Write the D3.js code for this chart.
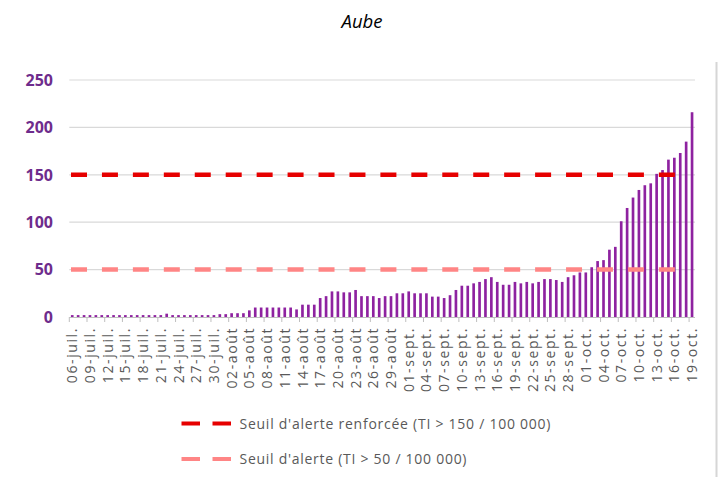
<!DOCTYPE html>
<html><head><meta charset="utf-8">
<script src="https://cdn.jsdelivr.net/npm/d3@7"></script>
<style>
html,body{margin:0;padding:0;background:#fff;}
svg{display:block;}
</style></head>
<body>
<svg id="chart" width="722" height="477"></svg>
<script>
// ---- data ----
const title = "Aube";
const categories = [
 "06-juil.","07-juil.","08-juil.","09-juil.","10-juil.","11-juil.","12-juil.","13-juil.","14-juil.","15-juil.",
 "16-juil.","17-juil.","18-juil.","19-juil.","20-juil.","21-juil.","22-juil.","23-juil.","24-juil.","25-juil.",
 "26-juil.","27-juil.","28-juil.","29-juil.","30-juil.","31-juil.",
 "01-août","02-août","03-août","04-août","05-août","06-août","07-août","08-août","09-août","10-août",
 "11-août","12-août","13-août","14-août","15-août","16-août","17-août","18-août","19-août","20-août",
 "21-août","22-août","23-août","24-août","25-août","26-août","27-août","28-août","29-août","30-août","31-août",
 "01-sept.","02-sept.","03-sept.","04-sept.","05-sept.","06-sept.","07-sept.","08-sept.","09-sept.","10-sept.",
 "11-sept.","12-sept.","13-sept.","14-sept.","15-sept.","16-sept.","17-sept.","18-sept.","19-sept.","20-sept.",
 "21-sept.","22-sept.","23-sept.","24-sept.","25-sept.","26-sept.","27-sept.","28-sept.","29-sept.","30-sept.",
 "01-oct.","02-oct.","03-oct.","04-oct.","05-oct.","06-oct.","07-oct.","08-oct.","09-oct.","10-oct.",
 "11-oct.","12-oct.","13-oct.","14-oct.","15-oct.","16-oct.","17-oct.","18-oct.","19-oct."
];
const values = [
 2,2,2,2,2,2,2,2,2,2,
 2,2,2,2,2,2,3.5,2,2,2,
 2,2,2,2,2,3,
 3,4,4,4,7,10,10,10,10,10,
 10,10,8,13,13,13,20,22,27,27,
 26,26,28.5,22,22,22,20,22,22,25,25,
 27,25,25,25,21.5,21.5,20,23,28.5,33,
 33,35.5,37,40,42,37,34,34,37,35.5,
 37,35.5,37,40,40,39,37,42,44,47,
 47,52.5,59,60,71,74,101,115,126,134,
 139,141,151,155,166,168,173,185,216
];
const tickLabels = categories.filter((d,i)=> i % 3 === 0);
const yTicks = [0,50,100,150,200,250];
const thresholds = [
 {label:"Seuil d'alerte renforcée (TI > 150 / 100 000)", value:150, color:"#e60000"},
 {label:"Seuil d'alerte (TI > 50 / 100 000)", value:50, color:"#ff8585"}
];

// ---- drawing ----
const svg = d3.select("#chart");
const L = 69.3, R = 695, T = 80, B = 317;

const x = d3.scaleBand().domain(categories).range([L, R]).paddingInner(0.55).paddingOuter(0.275);
const y = d3.scaleLinear().domain([0, 250]).range([B, T]);
const step = x.step();
const cellLeft = c => x(c) - step * x.paddingInner() / 2;

// title
svg.append("text").attr("x", 362).attr("y", 28).attr("text-anchor","middle")
  .attr("font-family","'Open Sans', sans-serif").attr("font-style","italic")
  .attr("font-size", 18.5).attr("fill","#000").text(title);

// right frame line
svg.append("line").attr("x1",716.5).attr("x2",716.5).attr("y1",62).attr("y2",477)
  .attr("stroke","#d6d6d6").attr("stroke-width",2);

// gridlines
svg.append("g").selectAll("line").data(yTicks.filter(d=>d>0)).join("line")
  .attr("x1", L).attr("x2", R).attr("y1", d=>y(d)).attr("y2", d=>y(d))
  .attr("stroke","#d9d9d9").attr("stroke-width",1.2);

// y labels
svg.append("g").selectAll("text").data(yTicks).join("text")
  .attr("x", 53).attr("y", d=>y(d)).attr("dy","0.36em").attr("text-anchor","end")
  .attr("font-family","'Open Sans', sans-serif").attr("font-weight",700)
  .attr("font-size",16).attr("fill","#6e2c8c").text(d=>d);

// bars
svg.append("g").selectAll("rect").data(values).join("rect")
  .attr("x", (d,i)=>x(categories[i])).attr("width", x.bandwidth())
  .attr("y", d=>y(d)).attr("height", d=>B - y(d))
  .attr("fill","#8e22a0");

// x axis line
svg.append("line").attr("x1",L).attr("x2",R).attr("y1",B+0.5).attr("y2",B+0.5)
  .attr("stroke","#bfbfbf").attr("stroke-width",1);

// ticks
svg.append("g").selectAll("line").data(tickLabels).join("line")
  .attr("x1", d=>cellLeft(d)).attr("x2", d=>cellLeft(d))
  .attr("y1", B).attr("y2", B+5).attr("stroke","#bfbfbf");

// x labels
svg.append("g").selectAll("text").data(tickLabels).join("text")
  .attr("transform", d=>`translate(${x(d)+x.bandwidth()/2},327) rotate(-90)`)
  .attr("dy","0.36em").attr("text-anchor","end")
  .attr("font-family","'Open Sans', sans-serif").attr("font-size",14)
  .attr("letter-spacing","1.6px")
  .attr("fill","#595959").text(d=>d);

// threshold lines
svg.append("g").selectAll("line").data(thresholds).join("line")
  .attr("x1", 71).attr("x2", 675).attr("y1", d=>y(d.value)).attr("y2", d=>y(d.value))
  .attr("stroke", d=>d.color).attr("stroke-width",4.5).attr("stroke-dasharray","16,14.94");

// legend
const lg = svg.append("g").selectAll("g").data(thresholds).join("g")
  .attr("transform",(d,i)=>`translate(0,${423.5 + i*35.5})`);
lg.append("line").attr("x1",181.5).attr("x2",231).attr("y1",0).attr("y2",0)
  .attr("stroke", d=>d.color).attr("stroke-width",4).attr("stroke-dasharray","18.5,12.5");
lg.append("text").attr("x",239.5).attr("y",0).attr("dy","0.36em")
  .attr("font-family","'Open Sans', sans-serif").attr("font-size",14)
  .attr("fill","#595959")
  .attr("textLength",(d,i)=> i===0 ? 311 : 227).attr("lengthAdjust","spacing")
  .text(d=>d.label);
</script>
</body></html>
